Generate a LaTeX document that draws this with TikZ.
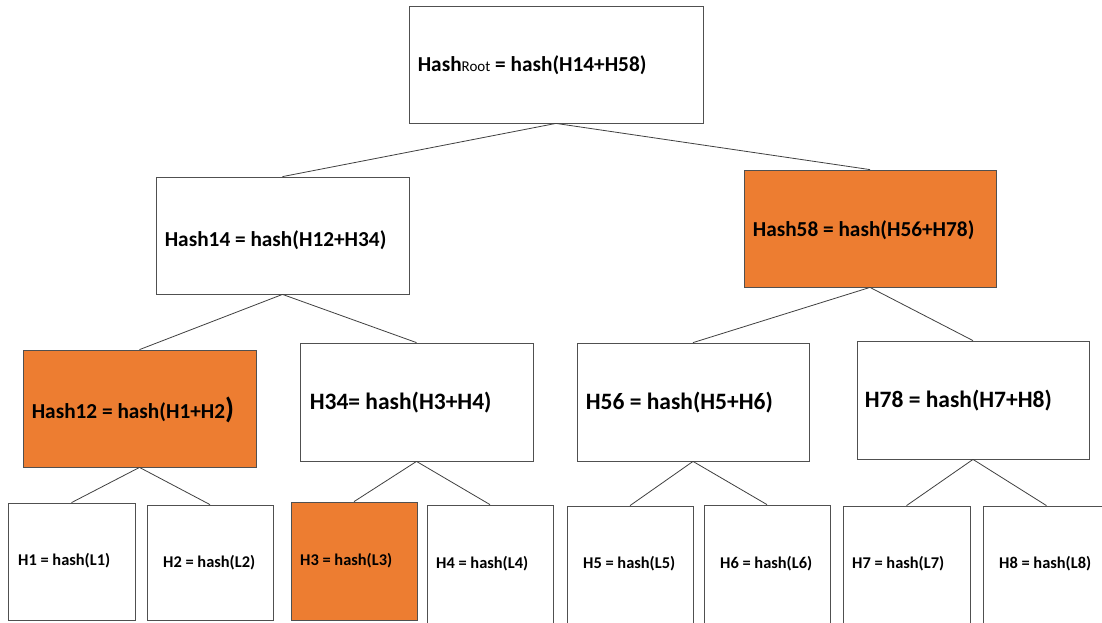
\documentclass[tikz,border=0pt]{standalone}
\usepackage{fontspec}
\setmainfont{Carlito}
\usetikzlibrary{calc}
\definecolor{orng}{HTML}{ED7D31}
\definecolor{edgec}{HTML}{404040}
\definecolor{bordc}{HTML}{505050}
\tikzset{
  box/.style={draw=bordc, line width=0.8pt, fill=white, inner sep=0pt},
  hot/.style={box, fill=orng},
  conn/.style={draw=edgec, line width=0.8pt},
  txt/.style={anchor=west, inner sep=0pt, text=black},
  big/.style={txt, font=\fontsize{21.3}{25}\selectfont\bfseries},
  mid/.style={txt, font=\fontsize{23.5}{27}\selectfont\bfseries},
  small/.style={txt, font=\fontsize{16.4}{19}\selectfont\bfseries}
}
\begin{document}
\begin{tikzpicture}[x=1pt,y=-1pt]
\useasboundingbox[fill=white] (0,0) rectangle (1102,622);
% boxes
\node[box, minimum width=294pt, minimum height=117pt] (root) at (556,64.5) {};
\node[box, minimum width=253pt, minimum height=117pt] (h14) at (282.5,235.5) {};
\node[hot, minimum width=252pt, minimum height=117pt] (h58) at (870,228.5) {};
\node[hot, minimum width=233pt, minimum height=117pt] (h12) at (139.5,408.5) {};
\node[box, minimum width=233pt, minimum height=118pt] (h34) at (416.5,402) {};
\node[box, minimum width=232pt, minimum height=118pt] (h56) at (693,402) {};
\node[box, minimum width=232pt, minimum height=118pt] (h78) at (973,400) {};
\node[box, minimum width=127pt, minimum height=117pt] (l1) at (71.5,561.5) {};
\node[box, minimum width=126pt, minimum height=115pt] (l2) at (210,562.5) {};
\node[hot, minimum width=126pt, minimum height=118pt] (l3) at (354,561) {};
\node[box, minimum width=126pt, minimum height=125pt] (l4) at (490,567.5) {};
\node[box, minimum width=126pt, minimum height=124pt] (l5) at (630,568) {};
\node[box, minimum width=126pt, minimum height=125pt] (l6) at (767,567.5) {};
\node[box, minimum width=127pt, minimum height=124pt] (l7) at (906.5,568) {};
\node[box, minimum width=127pt, minimum height=124pt] (l8) at (1046.5,568) {};
% texts
\node[big] (troot) at ($(root.west)+(9,0.5)$) {Hash{\mdseries\fontsize{15}{18}\selectfont Root} = hash(H14+H58)};
\node[big] (th14) at ($(h14.west)+(9,4.5)$) {Hash14 = hash(H12+H34)};
\node[big] (th58) at ($(h58.west)+(9,1.5)$) {Hash58 = hash(H56+H78)};
\node[big] (th12) at ($(h12.west)+(9,1.5)$) {Hash12 = hash(H1+H2{\fontsize{29}{30}\selectfont)}};
\node[mid] (th34) at ($(h34.west)+(10,1)$) {H34= hash(H3+H4)};
\node[mid] (th56) at ($(h56.west)+(9,1)$) {H56 = hash(H5+H6)};
\node[mid] (th78) at ($(h78.west)+(8,1)$) {H78 = hash(H7+H8)};
\node[small] (tl1) at (18,561) {H1 = hash(L1)};
\node[small] (tl2) at (163,563) {H2 = hash(L2)};
\node[small] (tl3) at (300,561) {H3 = hash(L3)};
\node[small] (tl4) at (436,564) {H4 = hash(L4)};
\node[small] (tl5) at (583,564) {H5 = hash(L5)};
\node[small] (tl6) at (720,564) {H6 = hash(L6)};
\node[small] (tl7) at (852,564) {H7 = hash(L7)};
\node[small] (tl8) at (999,564) {H8 = hash(L8)};
% connectors
\draw[conn] (root.south) -- (h14.north);
\draw[conn] (root.south) -- (h58.north);
\draw[conn] (h14.south) -- (h12.north);
\draw[conn] (h14.south) -- (h34.north);
\draw[conn] (h58.south) -- (h56.north);
\draw[conn] (h58.south) -- (h78.north);
\draw[conn] (h12.south) -- (l1.north);
\draw[conn] (h12.south) -- (l2.north);
\draw[conn] (h34.south) -- (l3.north);
\draw[conn] (h34.south) -- (l4.north);
\draw[conn] (h56.south) -- (l5.north);
\draw[conn] (h56.south) -- (l6.north);
\draw[conn] (h78.south) -- (l7.north);
\draw[conn] (h78.south) -- (l8.north);
\end{tikzpicture}
\end{document}
